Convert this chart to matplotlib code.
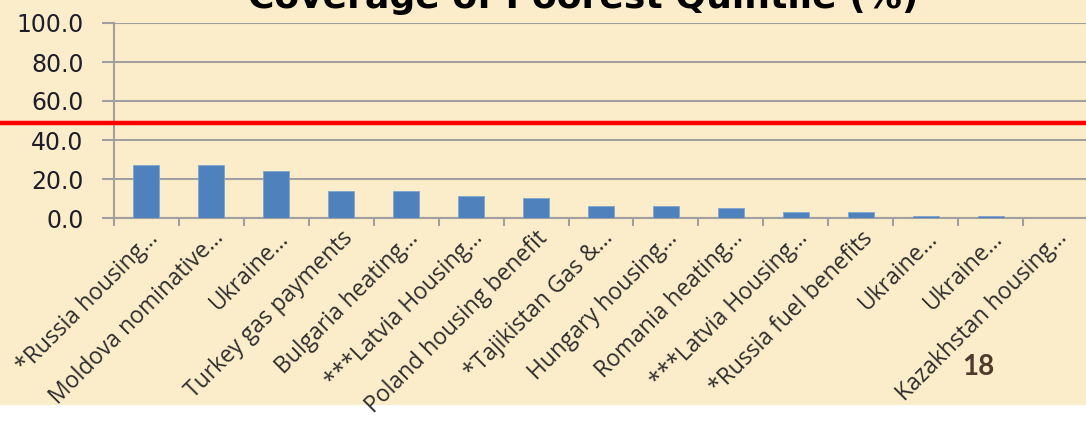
import numpy as np
import matplotlib.pyplot as plt
from matplotlib.lines import Line2D
from matplotlib.patches import Rectangle

# Données : couverture du quintile le plus pauvre (%)
programmes = ['*Russia housing...', 'Moldova nominative...', 'Ukraine...',
              'Turkey gas payments', 'Bulgaria heating...', '***Latvia Housing...',
              'Poland housing benefit', '*Tajikistan Gas &...', 'Hungary housing...',
              'Romania heating...', '***Latvia Housing...', '*Russia fuel benefits',
              'Ukraine...', 'Ukraine...', 'Kazakhstan housing...']
couverture = [27.0, 27.0, 24.0, 14.0, 14.0, 11.1, 10.1, 6.2, 6.2, 5.1, 3.2, 3.2, 1.2, 1.2, 0.0]
graduations = [0, 20, 40, 60, 80, 100]

fond = '#FCEDCA'
gris = '#A0A0A0'

fig = plt.figure(figsize=(10.86, 4.23), dpi=100, facecolor=fond)
fig.add_artist(Rectangle((0, 0), 1, 18/423, transform=fig.transFigure,
                         facecolor='white', edgecolor='none', zorder=-1))

ax = fig.add_axes([114/1086, 1 - 218/423, 974/1086, 195/423])
ax.set_facecolor('none')

x = np.arange(len(programmes))
ax.bar(x, couverture, width=0.4, color='#4F81BD', edgecolor='#7FA3D0', linewidth=0.6, zorder=3)

ax.set_xlim(-0.5, len(programmes) - 0.5)
ax.set_ylim(0, 100)
ax.set_yticks(graduations)
ax.set_yticklabels(['%.1f' % g for g in graduations], fontsize=17, color='#1E1E2A')
ax.grid(axis='y', color=gris, linewidth=1.5, zorder=0)
ax.tick_params(axis='y', length=9, width=1.5, color=gris, pad=13)

ax.set_xticks(x)
ax.set_xticklabels(programmes, rotation=45, ha='right', rotation_mode='anchor',
                   fontsize=16.5, family='Open Sans', color='#2E2E2E')
ax.tick_params(axis='x', which='major', length=0, pad=6)
ax.set_xticks(np.arange(-0.5, len(programmes), 1), minor=True)
ax.tick_params(axis='x', which='minor', length=6, width=1.5, color=gris)

for s in ['top', 'right']:
    ax.spines[s].set_visible(False)
for s in ['left', 'bottom']:
    ax.spines[s].set_color(gris)
    ax.spines[s].set_linewidth(1.5)

# Titre coupé en haut de la diapositive
fig.text(0.537, 1 - 8/423, 'Coverage of Poorest Quintile (%)', ha='center', va='baseline',
         fontsize=26, fontweight='bold', color='black')

# Ligne rouge
fig.add_artist(Line2D([0, 1], [1 - 123/423, 1 - 123/423], transform=fig.transFigure,
                      color='#FF0000', linewidth=3.2, zorder=5))

# Numéro de diapositive
fig.text(978/1086, 1 - 367/423, '18', ha='center', va='center', fontsize=20,
         fontweight='bold', color='#4E3B2C', family='Lato')

fig.savefig('out.png', dpi=100, facecolor=fond)
